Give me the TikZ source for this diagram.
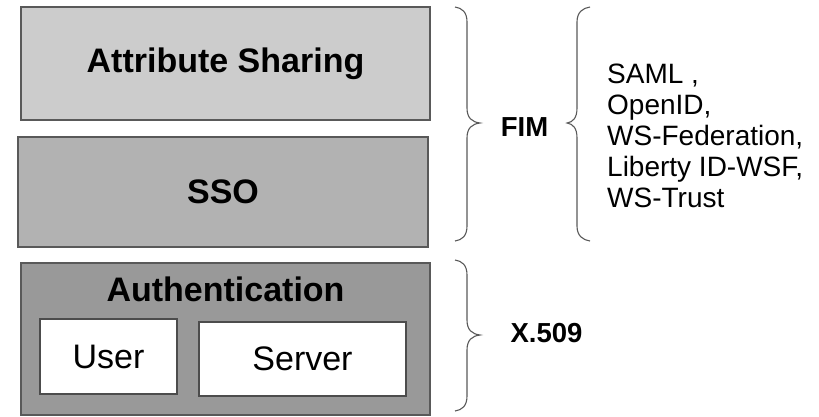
\documentclass[tikz,border=0pt]{standalone}
\usepackage{fontspec}
\setmainfont{Liberation Sans}
\begin{document}
\begin{tikzpicture}[x=1pt,y=-1pt,
  layerbox/.style={draw=black!65, line width=1.3pt, inner sep=0pt, font=\fontsize{34}{38}\selectfont\bfseries},
  subbox/.style={draw=black!70, line width=1.1pt, fill=white, inner sep=0pt, font=\fontsize{34}{38}\selectfont},
  bracestyle/.style={draw=black!65, line width=1.1pt},
  tag/.style={font=\fontsize{27.5}{32}\selectfont\bfseries, inner sep=0pt}
]
\useasboundingbox (0,0) rectangle (819,416);
\node[layerbox, fill=black!20, minimum width=409pt, minimum height=113pt] (attr) at (225.5,63.5) {Attribute Sharing};
\node[layerbox, fill=black!30, minimum width=410pt, minimum height=110pt] (sso) at (223,192) {SSO};
\node[layerbox, fill=black!40, minimum width=409pt, minimum height=152pt] (auth) at (225.5,339) {};
\node[font=\fontsize{34}{38}\selectfont\bfseries, inner sep=0pt] (authlbl) at (225.5,289) {Authentication};
\node[subbox, minimum width=137pt, minimum height=75pt] (user) at (108.5,356.5) {User};
\node[subbox, minimum width=207pt, minimum height=74pt] (server) at (302.5,359) {Server};
% braces
\draw[bracestyle] (455,7) .. controls (462,8) and (467,12) .. (467,22) -- (467,108)
  .. controls (467,118) and (472,122) .. (480,123)
  .. controls (472,124) and (467,128) .. (467,138) -- (467,226)
  .. controls (467,236) and (462,240) .. (455,241);
\draw[bracestyle] (590,7) .. controls (583,8) and (577,12) .. (577,22) -- (577,108)
  .. controls (577,118) and (573,122) .. (567,123)
  .. controls (573,124) and (577,128) .. (577,138) -- (577,226)
  .. controls (577,236) and (583,240) .. (590,241);
\draw[bracestyle] (455,260) .. controls (462,261) and (467,265) .. (467,275) -- (467,320)
  .. controls (467,330) and (472,334) .. (480,335)
  .. controls (472,336) and (467,340) .. (467,350) -- (467,396)
  .. controls (467,406) and (462,410) .. (455,411);
\node[tag] (fim) at (524.5,127) {FIM};
\node[tag] (x509) at (546.5,333) {X.509};
\node[anchor=west, align=left, inner sep=0pt, font=\fontsize{28}{31}\selectfont] (protos) at (607,136)
  {SAML ,\\OpenID,\\WS-Federation,\\Liberty ID-WSF,\\WS-Trust};
\end{tikzpicture}
\end{document}
